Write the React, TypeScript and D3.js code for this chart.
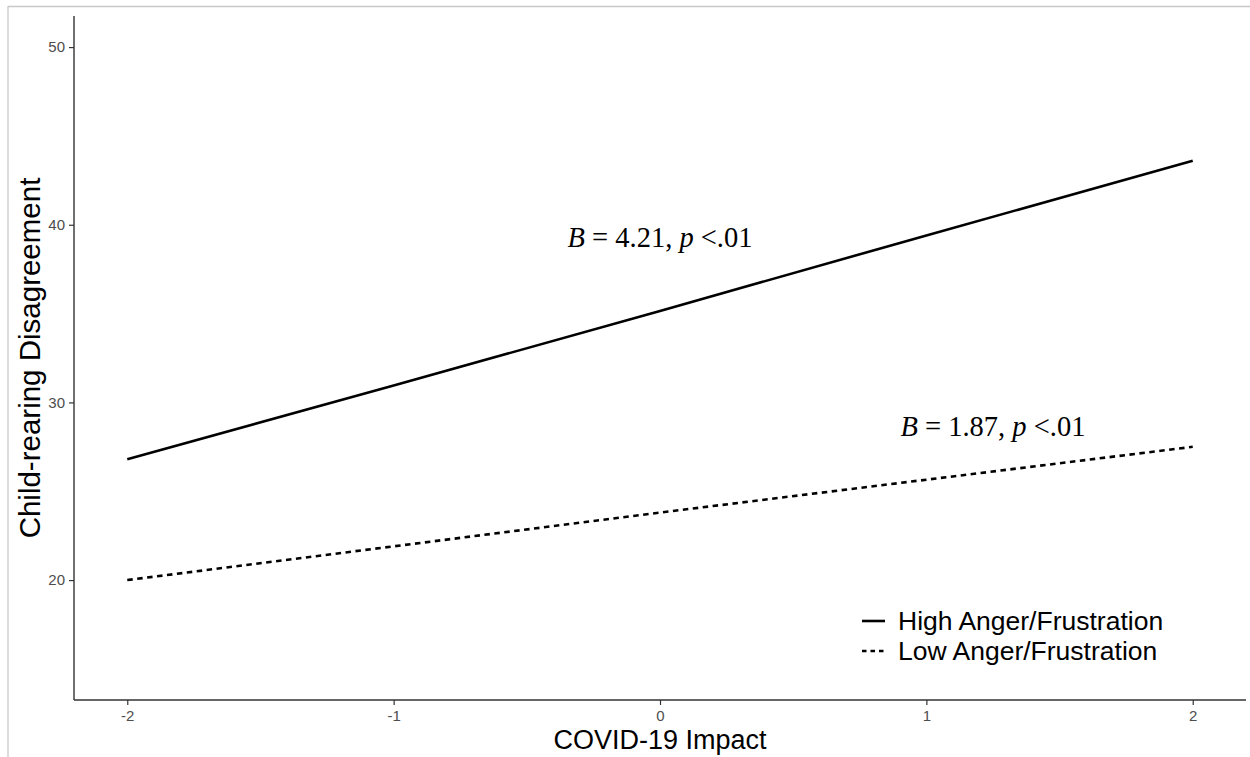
import React, { useEffect, useRef } from "react";
import * as d3 from "d3";

// COVID-19 impact (x) vs child-rearing disagreement (y)
const impact = [-2, -1, 0, 1, 2];
const highAnger = [26.8, 30.95, 35.15, 39.4, 43.6];
const lowAnger = [20.0, 21.9, 23.8, 25.65, 27.5];

const xTicks = [-2, -1, 0, 1, 2];
const yTicks = [20, 30, 40, 50];

const seriesNames = ["High Anger/Frustration", "Low Anger/Frustration"];

// annotation anchors, in data units
const notes = [
  { x: 0, y: 39.3, B: "4.21" },
  { x: 1.25, y: 28.7, B: "1.87" },
];

const width = 1250;
const height = 757;

const App = () => {
  const svgRef = useRef<SVGSVGElement | null>(null);

  useEffect(() => {
    const svg = d3.select(svgRef.current);
    svg.selectAll("*").remove();

    // y limits 15..50 with ggplot's 5% expansion
    const x = d3.scaleLinear().domain([-2.2, 2.2]).range([74, 1246]);
    const y = d3.scaleLinear().domain([13.25, 51.75]).range([700, 16]);

    // light frame of the screenshot
    svg.append("line").attr("x1", 8).attr("x2", width).attr("y1", 6.5).attr("y2", 6.5)
      .attr("stroke", "#c8c8c8").attr("stroke-width", 1.3);
    svg.append("line").attr("x1", 8).attr("x2", 8).attr("y1", 6).attr("y2", height)
      .attr("stroke", "#c8c8c8").attr("stroke-width", 1.3);

    // axes
    const xAxis = svg.append("g").attr("transform", `translate(0,${y.range()[0]})`)
      .call(d3.axisBottom(x).tickValues(xTicks).tickSize(5).tickPadding(5).tickFormat((d) => String(d)));
    const yAxis = svg.append("g").attr("transform", `translate(${x.range()[0]},0)`)
      .call(d3.axisLeft(y).tickValues(yTicks).tickSize(5).tickPadding(4).tickFormat((d) => String(d)));

    [xAxis, yAxis].forEach((a) => {
      a.select(".domain").remove();
      a.selectAll(".tick line").attr("stroke", "#333").attr("stroke-width", 1.2);
      a.selectAll(".tick text")
        .attr("fill", "#4d4d4d")
        .style("font-family", "Arial, 'Liberation Sans', sans-serif")
        .style("font-size", "15px");
    });
    svg.append("line").attr("x1", 74).attr("x2", 1246).attr("y1", 700).attr("y2", 700)
      .attr("stroke", "#333").attr("stroke-width", 1.4);
    svg.append("line").attr("x1", 74).attr("x2", 74).attr("y1", 16).attr("y2", 700)
      .attr("stroke", "#333").attr("stroke-width", 1.4);

    // series lines
    const line = d3.line<number>().x((d, i) => x(impact[i])).y((d) => y(d));
    svg.append("path").datum(highAnger).attr("d", line)
      .attr("fill", "none").attr("stroke", "#000").attr("stroke-width", 2.6);
    svg.append("path").datum(lowAnger).attr("d", line)
      .attr("fill", "none").attr("stroke", "#000").attr("stroke-width", 2.6)
      .attr("stroke-dasharray", "5.5,4.5");

    // annotations
    notes.forEach((n) => {
      const t = svg.append("text")
        .attr("x", x(n.x)).attr("y", y(n.y))
        .attr("text-anchor", "middle").attr("dominant-baseline", "central")
        .style("font-family", "'Times New Roman', 'Liberation Serif', serif")
        .style("font-size", "28.5px").attr("fill", "#000");
      t.append("tspan").style("font-style", "italic").text("B");
      t.append("tspan").text(` = ${n.B}, `);
      t.append("tspan").style("font-style", "italic").text("p");
      t.append("tspan").text(" <.01");
    });

    // legend
    const legend = svg.append("g").attr("transform", "translate(862,621)");
    seriesNames.forEach((name, i) => {
      const g = legend.append("g").attr("transform", `translate(0,${i * 30})`);
      g.append("line").attr("x1", 0).attr("x2", 23).attr("y1", 0).attr("y2", 0)
        .attr("stroke", "#000").attr("stroke-width", 2.6)
        .attr("stroke-dasharray", i === 1 ? "4.5,4" : null);
      g.append("text").attr("x", 36).attr("y", 0).attr("dominant-baseline", "central")
        .style("font-family", "Arial, 'Liberation Sans', sans-serif")
        .style("font-size", "26.5px").attr("fill", "#000").text(name);
    });

    // axis titles
    svg.append("text").attr("x", 660).attr("y", 749).attr("text-anchor", "middle")
      .style("font-family", "Arial, 'Liberation Sans', sans-serif")
      .style("font-size", "27px").attr("fill", "#000").text("COVID-19 Impact");
    svg.append("text")
      .attr("transform", `translate(40,${(16 + 700) / 2}) rotate(-90)`)
      .attr("text-anchor", "middle")
      .style("font-family", "Arial, 'Liberation Sans', sans-serif")
      .style("font-size", "29.5px").attr("fill", "#000").text("Child-rearing Disagreement");
  }, []);

  return (
    <svg
      ref={svgRef}
      width={width}
      height={height}
      style={{ position: "absolute", left: 0, top: 0, background: "#fff" }}
    />
  );
};

export default App;
